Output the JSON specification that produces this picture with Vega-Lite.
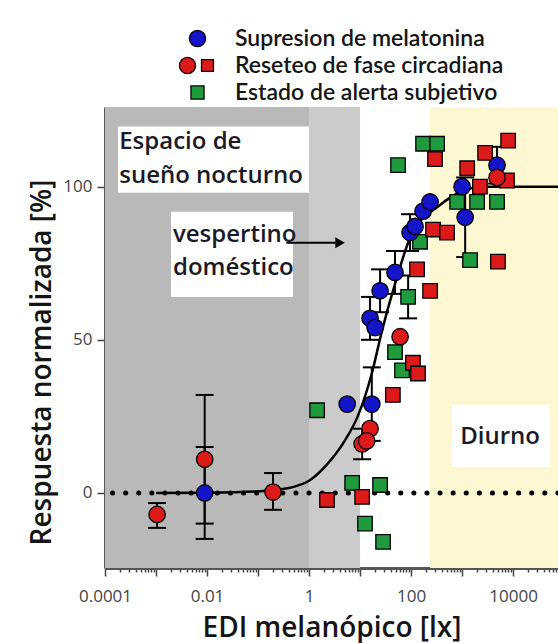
{
  "$schema": "https://vega.github.io/schema/vega-lite/v6.json",
  "width": 453,
  "height": 461,
  "autosize": {"type": "none"},
  "padding": {"left": 105, "top": 107, "right": 0, "bottom": 75},
  "background": "white",
  "config": {"view": {"stroke": null}, "font": "Open Sans"},
  "datasets": {
    "bands": [
      {"desde": 0.0001, "hasta": 1, "zona": "noche"},
      {"desde": 1, "hasta": 10, "zona": "transicion"},
      {"desde": 235, "hasta": 76000, "zona": "dia"}
    ],
    "boxes": [
      {"x": 0.00018, "x2": 1, "y": 119.6, "y2": 98},
      {"x": 0.00197, "x2": 0.485, "y": 91.8, "y2": 64},
      {"x": 635, "x2": 53000, "y": 28.8, "y2": 8.5}
    ],
    "base": [{"y": 0}],
    "curve": [
      {"x": 0.001, "y": 0},
      {"x": 0.01, "y": 0.1},
      {"x": 0.1, "y": 0.5},
      {"x": 0.2, "y": 1},
      {"x": 0.5, "y": 2},
      {"x": 1, "y": 4},
      {"x": 2.3, "y": 9.5},
      {"x": 5, "y": 17},
      {"x": 9, "y": 25},
      {"x": 17, "y": 39},
      {"x": 27, "y": 53},
      {"x": 48, "y": 68},
      {"x": 100, "y": 84},
      {"x": 370, "y": 94},
      {"x": 1000, "y": 98.5},
      {"x": 2500, "y": 100},
      {"x": 76000, "y": 100}
    ],
    "errs": [
      {"x": 0.009, "lo": -15, "hi": 15},
      {"x": 0.009, "lo": -10, "hi": 32},
      {"x": 0.00105, "lo": -11.4, "hi": -3.3},
      {"x": 0.197, "lo": -5.5, "hi": 6.5},
      {"x": 17, "lo": 17, "hi": 41},
      {"x": 15.7, "lo": 50, "hi": 64},
      {"x": 24.7, "lo": 59, "hi": 73},
      {"x": 48.5, "lo": 65, "hi": 79},
      {"x": 95.6, "lo": 79, "hi": 91},
      {"x": 1150, "lo": 77, "hi": 103},
      {"x": 4850, "lo": 101, "hi": 113},
      {"x": 11, "lo": 11, "hi": 21},
      {"x": 87.6, "lo": 57, "hi": 71}
    ],
    "pts": [
      {"serie": "Estado de alerta subjetivo", "forma": "cuadrado", "x": 55.6, "y": 107},
      {"serie": "Estado de alerta subjetivo", "forma": "cuadrado", "x": 172, "y": 114},
      {"serie": "Estado de alerta subjetivo", "forma": "cuadrado", "x": 324, "y": 114},
      {"serie": "Estado de alerta subjetivo", "forma": "cuadrado", "x": 800, "y": 95},
      {"serie": "Estado de alerta subjetivo", "forma": "cuadrado", "x": 1970, "y": 95},
      {"serie": "Estado de alerta subjetivo", "forma": "cuadrado", "x": 4850, "y": 95},
      {"serie": "Estado de alerta subjetivo", "forma": "cuadrado", "x": 1435, "y": 76},
      {"serie": "Estado de alerta subjetivo", "forma": "cuadrado", "x": 150, "y": 82},
      {"serie": "Estado de alerta subjetivo", "forma": "cuadrado", "x": 87.6, "y": 64},
      {"serie": "Estado de alerta subjetivo", "forma": "cuadrado", "x": 48.5, "y": 46},
      {"serie": "Estado de alerta subjetivo", "forma": "cuadrado", "x": 66.5, "y": 40},
      {"serie": "Estado de alerta subjetivo", "forma": "cuadrado", "x": 1.44, "y": 27},
      {"serie": "Estado de alerta subjetivo", "forma": "cuadrado", "x": 7, "y": 3.3},
      {"serie": "Estado de alerta subjetivo", "forma": "cuadrado", "x": 24.7, "y": 2.6},
      {"serie": "Estado de alerta subjetivo", "forma": "cuadrado", "x": 12.5, "y": -10},
      {"serie": "Estado de alerta subjetivo", "forma": "cuadrado", "x": 28.3, "y": -16},
      {"serie": "Reseteo de fase circadiana", "forma": "cuadrado", "x": 295, "y": 109},
      {"serie": "Reseteo de fase circadiana", "forma": "cuadrado", "x": 8000, "y": 115},
      {"serie": "Reseteo de fase circadiana", "forma": "cuadrado", "x": 2830, "y": 111},
      {"serie": "Reseteo de fase circadiana", "forma": "cuadrado", "x": 1260, "y": 106},
      {"serie": "Reseteo de fase circadiana", "forma": "cuadrado", "x": 2240, "y": 100},
      {"serie": "Reseteo de fase circadiana", "forma": "cuadrado", "x": 7600, "y": 102},
      {"serie": "Reseteo de fase circadiana", "forma": "cuadrado", "x": 270, "y": 86},
      {"serie": "Reseteo de fase circadiana", "forma": "cuadrado", "x": 508, "y": 85},
      {"serie": "Reseteo de fase circadiana", "forma": "cuadrado", "x": 5050, "y": 75.5},
      {"serie": "Reseteo de fase circadiana", "forma": "cuadrado", "x": 131, "y": 73},
      {"serie": "Reseteo de fase circadiana", "forma": "cuadrado", "x": 236, "y": 66},
      {"serie": "Reseteo de fase circadiana", "forma": "cuadrado", "x": 109, "y": 42.5},
      {"serie": "Reseteo de fase circadiana", "forma": "cuadrado", "x": 137, "y": 39},
      {"serie": "Reseteo de fase circadiana", "forma": "cuadrado", "x": 44, "y": 32},
      {"serie": "Reseteo de fase circadiana", "forma": "cuadrado", "x": 2.25, "y": -2.3},
      {"serie": "Reseteo de fase circadiana", "forma": "cuadrado", "x": 11, "y": -1.3},
      {"serie": "Supresion de melatonina", "forma": "circulo", "x": 0.009, "y": 0},
      {"serie": "Supresion de melatonina", "forma": "circulo", "x": 5.6, "y": 29},
      {"serie": "Supresion de melatonina", "forma": "circulo", "x": 17, "y": 29},
      {"serie": "Supresion de melatonina", "forma": "circulo", "x": 15.7, "y": 57},
      {"serie": "Supresion de melatonina", "forma": "circulo", "x": 19.7, "y": 54},
      {"serie": "Supresion de melatonina", "forma": "circulo", "x": 24.7, "y": 66},
      {"serie": "Supresion de melatonina", "forma": "circulo", "x": 48.5, "y": 72},
      {"serie": "Supresion de melatonina", "forma": "circulo", "x": 95.6, "y": 85},
      {"serie": "Supresion de melatonina", "forma": "circulo", "x": 120, "y": 87},
      {"serie": "Supresion de melatonina", "forma": "circulo", "x": 172, "y": 92},
      {"serie": "Supresion de melatonina", "forma": "circulo", "x": 236, "y": 95},
      {"serie": "Supresion de melatonina", "forma": "circulo", "x": 1000, "y": 100},
      {"serie": "Supresion de melatonina", "forma": "circulo", "x": 1150, "y": 90},
      {"serie": "Supresion de melatonina", "forma": "circulo", "x": 4850, "y": 107},
      {"serie": "Reseteo de fase circadiana", "forma": "circulo", "x": 0.00105, "y": -7},
      {"serie": "Reseteo de fase circadiana", "forma": "circulo", "x": 0.009, "y": 11},
      {"serie": "Reseteo de fase circadiana", "forma": "circulo", "x": 0.197, "y": 0.3},
      {"serie": "Reseteo de fase circadiana", "forma": "circulo", "x": 15.7, "y": 21},
      {"serie": "Reseteo de fase circadiana", "forma": "circulo", "x": 11, "y": 16},
      {"serie": "Reseteo de fase circadiana", "forma": "circulo", "x": 13.5, "y": 17},
      {"serie": "Reseteo de fase circadiana", "forma": "circulo", "x": 61, "y": 51},
      {"serie": "Reseteo de fase circadiana", "forma": "circulo", "x": 4850, "y": 103}
    ],
    "arrow": [{"x": 0.36, "x2": 3.7, "punta": 4.06, "y": 81.7}],
    "notesLeft": [
      {"texto": "Espacio de", "x": 0.00019, "y": 114.7},
      {"texto": "sueño nocturno", "x": 0.00019, "y": 103.6},
      {"texto": "vespertino", "x": 0.00215, "y": 84.3},
      {"texto": "doméstico", "x": 0.00215, "y": 73.5}
    ],
    "notesCenter": [
      {"texto": "Diurno", "x": 5560, "y": 18.3}
    ]
  },
  "layer": [
    {
      "data": {"name": "bands"},
      "mark": {"type": "rect"},
      "encoding": {
        "x": {
          "field": "desde", "type": "quantitative",
          "scale": {"type": "log", "domain": [0.0001, 76000], "nice": false},
          "axis": {
            "values": [0.0001,0.0002,0.0003,0.0004,0.0005,0.0006,0.0007,0.0008,0.0009,0.001,0.002,0.003,0.004,0.005,0.006,0.007,0.008,0.009,0.01,0.02,0.03,0.04,0.05,0.06,0.07,0.08,0.09,0.1,0.2,0.3,0.4,0.5,0.6,0.7,0.8,0.9,1,2,3,4,5,6,7,8,9,10,20,30,40,50,60,70,80,90,100,200,300,400,500,600,700,800,900,1000,2000,3000,4000,5000,6000,7000,8000,9000,10000,20000,30000,40000,50000,60000,70000],
            "labelExpr": "indexof([0.0001,0.01,1,100,10000], datum.value) >= 0 ? format(datum.value, '~g') : ''",
            "tickSize": {"condition": {"test": "indexof([0.0001,0.001,0.01,0.1,1,10,100,1000,10000], datum.value) >= 0", "value": 8}, "value": 4},
            "labelOverlap": false,
            "labelBound": false,
            "labelFlush": false,
            "grid": false,
            "domainColor": "#555555",
            "domainWidth": 3,
            "tickColor": "#444444",
            "tickWidth": 1.5,
            "labelColor": "#444444",
            "labelFontSize": 17,
            "labelPadding": 12,
            "title": "EDI melanópico [lx]",
            "titleFontSize": 28,
            "titleFontWeight": 600,
            "titleColor": "#151515",
            "titlePadding": 10
          }
        },
        "x2": {"field": "hasta"},
        "color": {
          "field": "zona", "type": "nominal", "legend": null,
          "scale": {"domain": ["noche", "transicion", "dia"], "range": ["#b9b9b9", "#cbcbcb", "#fdf8d2"]}
        }
      }
    },
    {
      "data": {"name": "boxes"},
      "mark": {"type": "rect", "color": "white"},
      "encoding": {
        "x": {"field": "x", "type": "quantitative"},
        "x2": {"field": "x2"},
        "y": {
          "field": "y", "type": "quantitative",
          "scale": {"domain": [-24.5, 126], "nice": false, "zero": false},
          "axis": {
            "values": [0, 50, 100],
            "grid": false,
            "domainColor": "#555555",
            "domainWidth": 3,
            "tickColor": "#444444",
            "tickWidth": 1.5,
            "tickSize": 8,
            "labelColor": "#444444",
            "labelFontSize": 17,
            "labelPadding": 5,
            "title": "Respuesta normalizada [%]",
            "titleFontSize": 28,
            "titleFontWeight": 600,
            "titleColor": "#151515",
            "titlePadding": 6,
            "titleY": 255
          }
        },
        "y2": {"field": "y2"}
      }
    },
    {
      "data": {"name": "base"},
      "mark": {"type": "rule", "color": "black", "strokeWidth": 5, "strokeDash": [0.1, 13], "strokeCap": "round"},
      "encoding": {"y": {"field": "y", "type": "quantitative"}}
    },
    {
      "data": {"name": "curve"},
      "mark": {"type": "line", "color": "black", "strokeWidth": 2.5, "interpolate": "monotone"},
      "encoding": {
        "x": {"field": "x", "type": "quantitative"},
        "y": {"field": "y", "type": "quantitative"}
      }
    },
    {
      "data": {"name": "errs"},
      "mark": {"type": "rule", "color": "black", "strokeWidth": 2},
      "encoding": {
        "x": {"field": "x", "type": "quantitative"},
        "y": {"field": "lo", "type": "quantitative"},
        "y2": {"field": "hi"}
      }
    },
    {
      "data": {"name": "errs"},
      "mark": {"type": "tick", "orient": "horizontal", "color": "black", "size": 18, "thickness": 2, "opacity": 1},
      "encoding": {
        "x": {"field": "x", "type": "quantitative"},
        "y": {"field": "lo", "type": "quantitative"}
      }
    },
    {
      "data": {"name": "errs"},
      "mark": {"type": "tick", "orient": "horizontal", "color": "black", "size": 18, "thickness": 2, "opacity": 1},
      "encoding": {
        "x": {"field": "x", "type": "quantitative"},
        "y": {"field": "hi", "type": "quantitative"}
      }
    },
    {
      "data": {"name": "pts"},
      "mark": {"type": "point", "filled": true, "stroke": "black", "strokeWidth": 1.3, "opacity": 1, "fillOpacity": 1, "strokeOpacity": 1},
      "encoding": {
        "x": {"field": "x", "type": "quantitative"},
        "y": {"field": "y", "type": "quantitative"},
        "fill": {
          "field": "serie", "type": "nominal",
          "scale": {
            "domain": ["Supresion de melatonina", "Reseteo de fase circadiana", "Estado de alerta subjetivo"],
            "range": ["#1414c8", "#dd1a1a", "#1f9a3c"]
          },
          "legend": {
            "orient": "none",
            "legendX": 81,
            "legendY": -80,
            "title": null,
            "padding": 0,
            "labelFont": "Lato",
            "labelFontSize": 23,
            "labelFontWeight": 600,
            "labelColor": "#151515",
            "labelLimit": 0,
            "labelOffset": 26,
            "rowPadding": 3,
            "symbolSize": 260,
            "symbolStrokeColor": "black",
            "symbolStrokeWidth": 1.3,
            "symbolOpacity": 1,
            "encode": {
              "symbols": {
                "update": {
                  "shape": {"signal": "datum.value === 'Supresion de melatonina' ? 'circle' : datum.value === 'Reseteo de fase circadiana' ? 'M-2.24,0A1,1,0,1,1,-0.24,0A1,1,0,1,1,-2.24,0ZM0.5,-0.74H1.98V0.74H0.5Z' : 'M-0.81,-0.81H0.81V0.81H-0.81Z'"},
                  "stroke": {"value": "black"},
                  "strokeWidth": {"value": 1.3}
                }
              }
            }
          }
        },
        "shape": {
          "field": "forma", "type": "nominal", "legend": null,
          "scale": {"domain": ["circulo", "cuadrado"], "range": ["circle", "square"]}
        },
        "size": {
          "field": "forma", "type": "nominal", "legend": null,
          "scale": {"domain": ["circulo", "cuadrado"], "range": [270, 210]}
        }
      }
    },
    {
      "data": {"name": "arrow"},
      "mark": {"type": "rule", "color": "black", "strokeWidth": 2},
      "encoding": {
        "x": {"field": "x", "type": "quantitative"},
        "x2": {"field": "x2"},
        "y": {"field": "y", "type": "quantitative"}
      }
    },
    {
      "data": {"name": "arrow"},
      "mark": {"type": "point", "shape": "triangle-right", "filled": true, "color": "black", "size": 120, "opacity": 1},
      "encoding": {
        "x": {"field": "punta", "type": "quantitative"},
        "y": {"field": "y", "type": "quantitative"}
      }
    },
    {
      "data": {"name": "notesLeft"},
      "mark": {"type": "text", "align": "left", "baseline": "middle", "fontSize": 24, "fontWeight": 600, "color": "#1a1a26"},
      "encoding": {
        "x": {"field": "x", "type": "quantitative"},
        "y": {"field": "y", "type": "quantitative"},
        "text": {"field": "texto"}
      }
    },
    {
      "data": {"name": "notesCenter"},
      "mark": {"type": "text", "align": "center", "baseline": "middle", "fontSize": 24, "fontWeight": 600, "color": "#1a1a26"},
      "encoding": {
        "x": {"field": "x", "type": "quantitative"},
        "y": {"field": "y", "type": "quantitative"},
        "text": {"field": "texto"}
      }
    }
  ]
}
